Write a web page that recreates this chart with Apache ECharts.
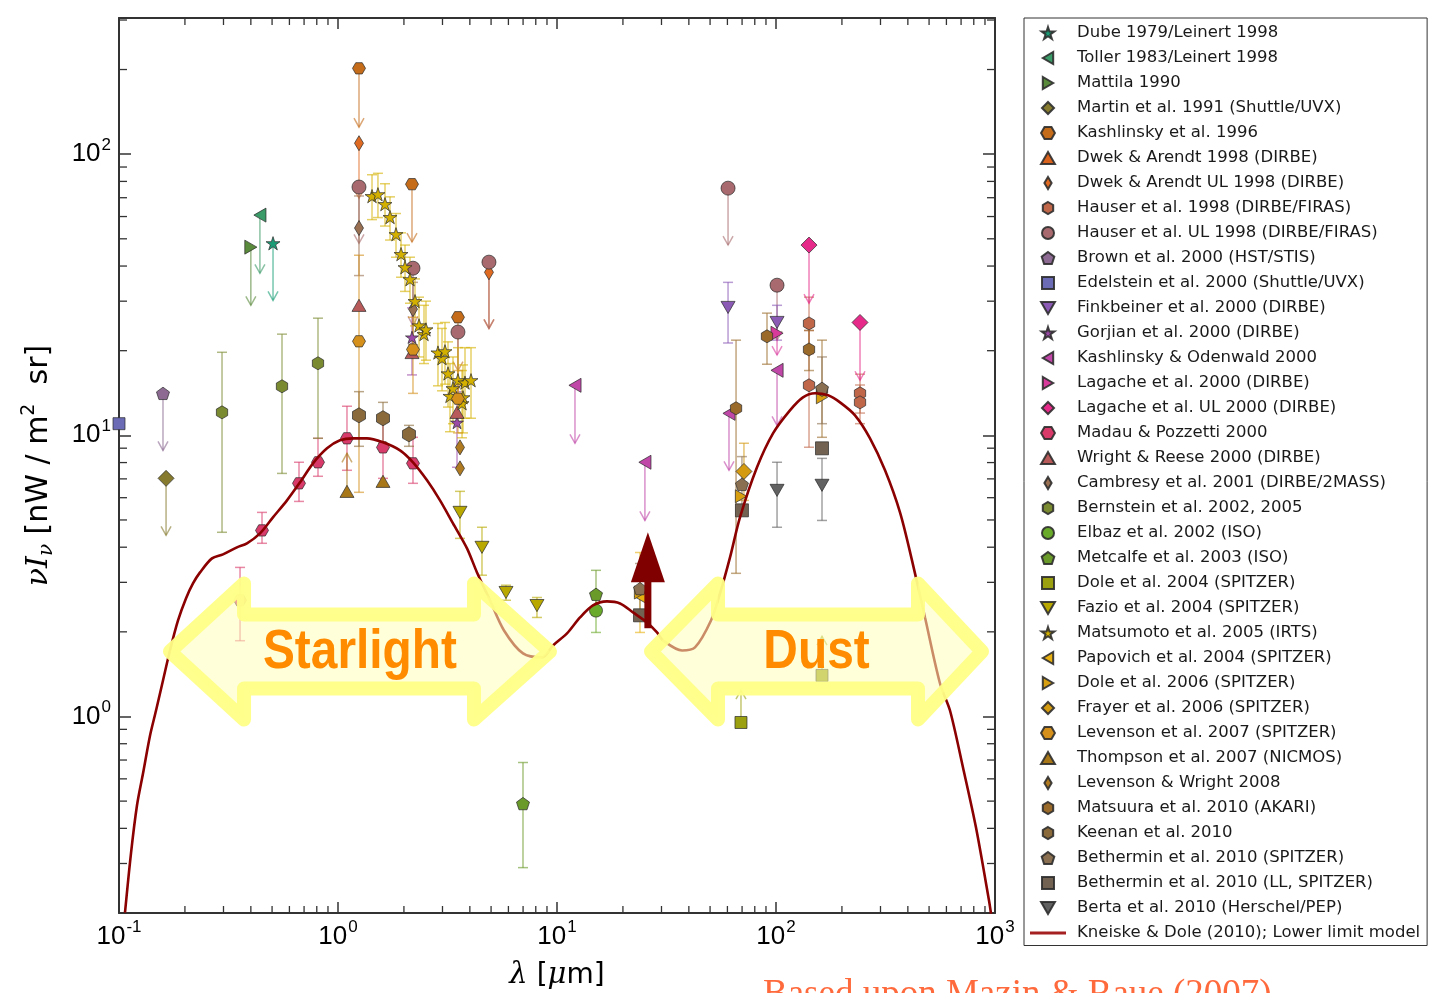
<!DOCTYPE html>
<html><head><meta charset="utf-8">
<script src="https://cdn.jsdelivr.net/npm/echarts@6/dist/echarts.min.js"></script>
<style>html,body{margin:0;padding:0;background:#fff}#c{width:1430px;height:993px}</style>
</head><body><div id="c"></div>
<script>
// ---------------- DATA ----------------
// columns: [lambda (um), nuI_nu, errLow, errHigh, limitEnd]  (0 = none)
const DUBE = [[0.505, 48.2, 0, 0, 30.2]];
const TOLLER = [[0.440, 60.7, 0, 0, 37.7]];
const MATTILA = [[0.400, 46.7, 0, 0, 29.0]];
const MARTIN = [[0.164, 7.03, 0, 0, 4.41]];
const KASHLINSKY96 = [[1.247, 202, 0, 0, 124.7], [2.177, 78.2, 0, 0, 48.7], [3.53, 26.3, 0, 0, 17.0]];
const DWEK98 = [];
const DWEK98_UL = [[1.247, 109.4, 0, 0, 69.7], [4.89, 38.0, 0, 0, 24.0]];
const HAUSER98 = [[141.5, 25.0, 19.5, 31.0, 0], [141.5, 15.06, 9.07, 23.6, 0], [241.9, 14.1, 12.0, 16.5, 0], [241.9, 13.1, 11.0, 15.1, 0]];
const HAUSER98_UL = [[1.247, 76.4, 0, 0, 48.2], [2.200, 39.3, 0, 0, 24.6], [3.53, 23.3, 0, 0, 14.5], [4.89, 41.3, 0, 0, 24.0], [60.4, 75.7, 0, 0, 47.5], [101.1, 34.2, 0, 0, 21.8]];
const BROWN00 = [[0.1588, 14.1, 0, 0, 8.84]];
const EDELSTEIN00 = [[0.1, 11.0, 0, 0, 0]];
const FINKBEINER00 = [[60.4, 28.5, 21.3, 35.0, 0], [101.1, 25.2, 21.8, 29.0, 0]];
const GORJIAN00 = [[2.177, 22.3, 16.4, 28.4, 0], [3.495, 11.1, 7.7, 14.3, 0]];
const KASH_ODEN00 = [[12.08, 15.06, 0, 0, 9.37], [25.2, 8.02, 0, 0, 4.98], [61.0, 11.97, 0, 0, 7.51], [101.1, 17.03, 0, 0, 10.85]];
const LAGACHE00 = [[101.1, 23.07, 0, 0, 19.3]];
const LAGACHE00_UL = [[141.5, 47.5, 0, 0, 29.5], [241.9, 25.2, 0, 0, 15.7]];
const MADAU00 = [[0.357, 2.59, 1.86, 3.39, 0], [0.4498, 4.59, 4.13, 5.32, 0], [0.6636, 6.75, 5.82, 8.02, 0], [0.8103, 8.02, 7.15, 9.76, 0], [1.099, 9.76, 7.51, 12.69, 0], [1.605, 9.06, 7.03, 11.78, 0], [2.200, 7.95, 6.75, 9.84, 0]];
const WRIGHT00 = [[1.247, 29.0, 0, 0, 0], [2.177, 19.7, 0, 0, 0], [3.495, 12.07, 0, 0, 0]];
const CAMBRESY01 = [[1.247, 54.6, 37, 71, 0], [2.200, 28.1, 21, 35, 0]];
const BERNSTEIN02 = [[0.2954, 12.07, 4.52, 19.74, 0], [0.555, 14.94, 7.32, 22.9, 0], [0.8103, 18.04, 9.76, 26.1, 0]];
const ELBAZ02 = [[15.07, 2.38, 1.99, 2.70, 0]];
const METCALFE03 = [[15.07, 2.72, 2.29, 3.31, 0], [6.994, 0.490, 0.290, 0.686, 0]];
const DOLE04 = [[69.2, 0.952, 0, 0, 1.24], [162.2, 1.40, 0, 0, 1.93]];
const FAZIO04 = [[3.606, 5.32, 4.30, 6.32, 0], [4.544, 3.995, 3.18, 4.71, 0], [5.85, 2.76, 2.59, 2.93, 0], [8.10, 2.48, 2.25, 2.65, 0]];
const MATSUMOTO05 = [
  [1.430, 70.9, 58.5, 84.5, 0], [1.522, 72.0, 59.5, 85.5, 0], [1.639, 66.4, 55.5, 78.5, 0],
  [1.728, 59.7, 49.5, 70.5, 0], [1.840, 51.9, 43.0, 61.5, 0], [1.940, 44.1, 36.5, 52.5, 0],
  [2.023, 39.6, 32.5, 47.5, 0], [2.132, 35.9, 29.5, 43.0, 0], [2.247, 30.0, 24.5, 36.0, 0],
  [2.344, 24.6, 19.0, 31.0, 0], [2.470, 22.9, 18.0, 29.0, 0], [2.522, 23.8, 18.5, 30.0, 0],
  [2.861, 19.7, 15.0, 25.0, 0], [2.985, 18.8, 14.4, 24.0, 0], [3.080, 19.9, 15.2, 25.2, 0],
  [3.179, 16.6, 12.6, 21.5, 0], [3.246, 13.8, 10.3, 18.0, 0], [3.350, 14.7, 11.0, 19.0, 0],
  [3.530, 15.7, 11.8, 20.5, 0], [3.684, 13.0, 9.8, 17.0, 0], [3.722, 13.65, 10.2, 17.8, 0],
  [3.801, 15.4, 11.5, 20.5, 0], [4.049, 15.7, 11.5, 20.5, 0]
];
const PAPOVICH04 = [[23.93, 2.67, 1.99, 3.83, 0]];
const DOLE06 = [[23.93, 2.76, 0, 0, 0], [69.2, 6.07, 0, 0, 0], [162.2, 13.65, 0, 0, 0]];
const FRAYER06 = [[71.4, 7.44, 5.87, 9.37, 0]];
const LEVENSON07 = [[1.247, 21.6, 6.27, 43.7, 0], [2.200, 20.2, 14.1, 26.3, 0], [3.53, 13.5, 10.2, 17.0, 0]];
const THOMPSON07 = [[1.099, 6.32, 0, 0, 8.63], [1.605, 6.86, 0, 0, 0]];
const LEVENSON_WRIGHT08 = [[3.606, 9.06, 0, 0, 0], [3.606, 7.63, 0, 0, 0]];
const MATSUURA10 = [[65.7, 12.48, 3.23, 21.8, 0], [90.97, 22.5, 17.9, 27.2, 0], [141.5, 20.2, 17.0, 23.6, 0], [162.2, 14.5, 9.84, 21.8, 0]];
const KEENAN10 = [[1.247, 11.78, 9.14, 14.3, 0], [1.605, 11.5, 9.37, 13.1, 0], [2.109, 10.08, 9.14, 10.85, 0]];
const BETHERMIN10 = [[23.93, 2.85, 2.29, 3.5, 0], [69.9, 6.69, 5.3, 8.4, 0], [162.2, 14.7, 11.0, 19.0, 0]];
const BETHERMIN10_LL = [[23.93, 2.29, 0, 0, 0], [69.9, 5.41, 0, 0, 0], [162.2, 8.99, 0, 0, 0]];
const BERTA10 = [[101.1, 6.37, 4.71, 8.02, 0], [162.2, 6.64, 4.98, 8.28, 0]];

// Kneiske & Dole (2010) lower-limit model
const MODEL_LAMBDA = [0.1065, 0.1134, 0.1208, 0.1287, 0.1386, 0.1476, 0.1588, 0.1709, 0.1860, 0.2022,
  0.2177, 0.2344, 0.2659, 0.2985, 0.3457, 0.3841, 0.4404, 0.5047, 0.5849, 0.6707,
  0.7689, 0.8909, 1.021, 1.171, 1.356, 1.605, 1.919, 2.200, 2.550, 2.923,
  3.350, 3.882, 4.312, 4.945, 5.728, 6.994, 8.543, 9.587, 11.11, 12.74,
  14.60, 16.92, 19.40, 22.23, 25.76, 28.62, 30.48, 37.23, 42.67, 50.49,
  55.51, 61.66, 68.47, 81.89, 96.89, 115.8, 132.8, 150.7, 172.8, 196.0,
  229.5, 268.7, 314.7, 368.3, 417.8, 479.1, 561.0, 623.0, 714.2, 818.9,
  938.9, 958.8];
const MODEL_NUI = [0.2007, 0.3255, 0.4824, 0.6268, 0.8558, 1.050, 1.343, 1.717, 2.196, 2.630,
  2.973, 3.254, 3.650, 3.772, 3.995, 4.128, 4.479, 5.107, 5.871, 6.803,
  7.951, 8.990, 9.598, 9.757, 9.757, 9.443, 8.843, 8.015, 6.917, 5.871,
  4.862, 3.963, 3.254, 2.588, 2.023, 1.676, 1.622, 1.789, 1.974, 2.250,
  2.483, 2.566, 2.524, 2.345, 2.160, 1.990, 1.864, 1.717, 1.761, 2.196,
  2.740, 3.680, 5.107, 7.693, 10.16, 12.27, 13.65, 14.11, 13.88, 13.10,
  11.78, 9.757, 7.506, 5.321, 3.592, 2.250, 1.310, 1.050, 0.6584, 0.4027,
  0.2214, 0.1990];

// Annotation arrows: [tipLeft λ, barbLeft λ, barbRight λ, tipRight λ, centre value]
const REGION_ARROWS = [[0.1709, 0.3723, 4.178, 9.29, 1.703], [26.87, 54.35, 445.1, 872.3, 1.703]];
const REGION_LABELS = ['Starlight', 'Dust'];
// Lower-limit arrow at 24 um: [λ, base value, head-base value, tip value]
const RED_ARROW = [[26.0, 2.06, 3.0, 4.52]];

// Tick values
const X_MINOR = [0.2,0.3,0.4,0.5,0.6,0.7,0.8,0.9,2,3,4,5,6,7,8,9,20,30,40,50,60,70,80,90,200,300,400,500,600,700,800,900];
const Y_MINOR = [0.3,0.4,0.5,0.6,0.7,0.8,0.9,2,3,4,5,6,7,8,9,20,30,40,50,60,70,80,90,200,300];

const MODEL_NAME = 'Kneiske & Dole (2010); Lower limit model';
const NOTE_TEXT = 'Based upon Mazin & Raue (2007)';

// ---------------- STYLES ----------------
const SYM = {
  star: 'path://M5,0 L6.12,3.455 L9.755,3.455 L6.815,5.59 L7.94,9.045 L5,6.91 L2.06,9.045 L3.185,5.59 L0.245,3.455 L3.88,3.455 Z',
  tl: 'path://M0,5 L8.66,0 L8.66,10 Z',
  tr: 'path://M8.66,5 L0,0 L0,10 Z',
  tu: 'path://M5,0 L10,8.66 L0,8.66 Z',
  td: 'path://M0,0 L10,0 L5,8.66 Z',
  D: 'path://M5,0 L10,5 L5,10 L0,5 Z',
  d: 'path://M3,0 L6,5 L3,10 L0,5 Z',
  h: 'path://M4.33,0 L8.66,2.5 L8.66,7.5 L4.33,10 L0,7.5 L0,2.5 Z',
  H: 'path://M0,4.33 L2.5,0 L7.5,0 L10,4.33 L7.5,8.66 L2.5,8.66 Z',
  p: 'path://M5,0 L9.755,3.455 L7.94,9.045 L2.06,9.045 L0.245,3.455 Z',
  s: 'path://M0,0 L10,0 L10,10 L0,10 Z',
  o: 'circle'
};

const SERIES = [
  ['Dube 1979/Leinert 1998', DUBE, 'star', '#1b9e77', 14],
  ['Toller 1983/Leinert 1998', TOLLER, 'tl', '#3a9a68', 14],
  ['Mattila 1990', MATTILA, 'tr', '#5a8a3c', 14],
  ['Martin et al. 1991 (Shuttle/UVX)', MARTIN, 'D', '#857a2e', 16],
  ['Kashlinsky et al. 1996', KASHLINSKY96, 'H', '#c46c1a', 13],
  ['Dwek & Arendt 1998 (DIRBE)', DWEK98, 'tu', '#d9621c', 13],
  ['Dwek & Arendt UL 1998 (DIRBE)', DWEK98_UL, 'd', '#df6a22', 15],
  ['Hauser et al. 1998 (DIRBE/FIRAS)', HAUSER98, 'h', '#c0674a', 13],
  ['Hauser et al. UL 1998 (DIRBE/FIRAS)', HAUSER98_UL, 'o', '#a86a6e', 14],
  ['Brown et al. 2000 (HST/STIS)', BROWN00, 'p', '#8c6a92', 13],
  ['Edelstein et al. 2000 (Shuttle/UVX)', EDELSTEIN00, 's', '#6b6bb5', 12],
  ['Finkbeiner et al. 2000 (DIRBE)', FINKBEINER00, 'td', '#8a5ab5', 14],
  ['Gorjian et al. 2000 (DIRBE)', GORJIAN00, 'star', '#9b4aa8', 13],
  ['Kashlinsky & Odenwald 2000', KASH_ODEN00, 'tl', '#c046a8', 14],
  ['Lagache et al. 2000 (DIRBE)', LAGACHE00, 'tr', '#d83a9c', 14],
  ['Lagache et al. UL 2000 (DIRBE)', LAGACHE00_UL, 'D', '#e62a8a', 16],
  ['Madau & Pozzetti 2000', MADAU00, 'H', '#d83a6a', 13],
  ['Wright & Reese 2000 (DIRBE)', WRIGHT00, 'tu', '#b85a5a', 14],
  ['Cambresy et al. 2001 (DIRBE/2MASS)', CAMBRESY01, 'd', '#9a7052', 15],
  ['Bernstein et al. 2002, 2005', BERNSTEIN02, 'h', '#7a8a30', 13],
  ['Elbaz et al. 2002 (ISO)', ELBAZ02, 'o', '#6aaa2a', 13],
  ['Metcalfe et al. 2003 (ISO)', METCALFE03, 'p', '#6a9a2a', 13],
  ['Dole et al. 2004 (SPITZER)', DOLE04, 's', '#9aa010', 12],
  ['Fazio et al. 2004 (SPITZER)', FAZIO04, 'td', '#b8a800', 14],
  ['Matsumoto et al. 2005 (IRTS)', MATSUMOTO05, 'star', '#d4b000', 14],
  ['Papovich et al. 2004 (SPITZER)', PAPOVICH04, 'tl', '#e8b010', 13],
  ['Dole et al. 2006 (SPITZER)', DOLE06, 'tr', '#d8a010', 13],
  ['Frayer et al. 2006 (SPITZER)', FRAYER06, 'D', '#d49a10', 16],
  ['Levenson et al. 2007 (SPITZER)', LEVENSON07, 'H', '#d4901a', 13],
  ['Thompson et al. 2007 (NICMOS)', THOMPSON07, 'tu', '#a87818', 14],
  ['Levenson & Wright 2008', LEVENSON_WRIGHT08, 'd', '#b07a20', 15],
  ['Matsuura et al. 2010 (AKARI)', MATSUURA10, 'h', '#9a6a2a', 13],
  ['Keenan et al. 2010', KEENAN10, 'h', '#8a6a3a', 15],
  ['Bethermin et al. 2010 (SPITZER)', BETHERMIN10, 'p', '#8a7050', 13],
  ['Bethermin et al. 2010 (LL, SPITZER)', BETHERMIN10_LL, 's', '#726252', 13],
  ['Berta et al. 2010 (Herschel/PEP)', BERTA10, 'td', '#626262', 14]
];

function rgba(hex, a) {
  const n = parseInt(hex.slice(1), 16);
  return 'rgba(' + ((n >> 16) & 255) + ',' + ((n >> 8) & 255) + ',' + (n & 255) + ',' + a + ')';
}

function errRender(color) {
  return function (params, api) {
    const x = api.value(0), y = api.value(1), lo = api.value(2), hi = api.value(3), lim = api.value(4);
    const p = api.coord([x, y]);
    const st = { stroke: color, lineWidth: 1.5, fill: null };
    const ch = [];
    if (lo > 0 && hi > 0) {
      const a = api.coord([x, hi]), b = api.coord([x, lo]);
      ch.push({ type: 'line', shape: { x1: a[0], y1: a[1], x2: b[0], y2: b[1] }, style: st });
      ch.push({ type: 'line', shape: { x1: a[0] - 5, y1: a[1], x2: a[0] + 5, y2: a[1] }, style: st });
      ch.push({ type: 'line', shape: { x1: b[0] - 5, y1: b[1], x2: b[0] + 5, y2: b[1] }, style: st });
    }
    if (lim > 0) {
      const e = api.coord([x, lim]);
      const dir = e[1] > p[1] ? 1 : -1;
      ch.push({ type: 'line', shape: { x1: p[0], y1: p[1], x2: e[0], y2: e[1] }, style: st });
      ch.push({ type: 'polyline', shape: { points: [[e[0] - 5, e[1] - dir * 9], [e[0], e[1]], [e[0] + 5, e[1] - dir * 9]] }, style: st });
    }
    return { type: 'group', children: ch };
  };
}

const series = [];
SERIES.forEach(function (s) {
  const name = s[0], pts = s[1], sym = s[2], col = s[3], size = s[4];
  series.push({
    type: 'custom', name: name + ' (err)', z: 3, silent: true,
    encode: { x: 0, y: 1 }, data: pts, renderItem: errRender(rgba(col, 0.6))
  });
  series.push({
    type: 'scatter', name: name, z: 4, symbol: SYM[sym], symbolSize: size, symbolKeepAspect: true,
    itemStyle: { color: col, borderColor: 'rgba(45,45,45,0.9)', borderWidth: 0.8, opacity: 1 },
    data: pts.map(function (p) { return [p[0], p[1]]; })
  });
});

series.push({
  type: 'line', name: MODEL_NAME, z: 5, symbol: 'none', showSymbol: false, smooth: 0.3, silent: true,
  lineStyle: { color: '#8b0000', width: 2.6 }, itemStyle: { color: '#a52020' },
  data: MODEL_LAMBDA.map(function (l, i) { return [l, MODEL_NUI[i]]; })
});

// minor ticks (all four sides)
series.push({
  type: 'custom', name: 'xminor', z: 6, silent: true, encode: { x: 0, y: 1 },
  data: X_MINOR.map(function (v) { return [v, 1]; }),
  renderItem: function (params, api) {
    const cs = params.coordSys; const px = api.coord([api.value(0), 1])[0];
    const st = { stroke: '#333', lineWidth: 1.3 };
    return { type: 'group', children: [
      { type: 'line', shape: { x1: px, y1: cs.y + cs.height, x2: px, y2: cs.y + cs.height - 7 }, style: st },
      { type: 'line', shape: { x1: px, y1: cs.y, x2: px, y2: cs.y + 7 }, style: st }
    ] };
  }
});
series.push({
  type: 'custom', name: 'yminor', z: 6, silent: true, encode: { x: 0, y: 1 },
  data: Y_MINOR.map(function (v) { return [1, v]; }),
  renderItem: function (params, api) {
    const cs = params.coordSys; const py = api.coord([1, api.value(1)])[1];
    const st = { stroke: '#333', lineWidth: 1.3 };
    return { type: 'group', children: [
      { type: 'line', shape: { x1: cs.x, y1: py, x2: cs.x + 8, y2: py }, style: st },
      { type: 'line', shape: { x1: cs.x + cs.width, y1: py, x2: cs.x + cs.width - 8, y2: py }, style: st }
    ] };
  }
});

// Starlight / Dust arrows
series.push({
  type: 'custom', name: 'regions', z: 10, silent: true, encode: { x: 0, y: 4 },
  data: REGION_ARROWS,
  renderItem: function (params, api) {
    const c = api.value(4);
    const tl = api.coord([api.value(0), c]), bl = api.coord([api.value(1), c]);
    const br = api.coord([api.value(2), c]), tr = api.coord([api.value(3), c]);
    const cy = tl[1], S = 37, B = 68;
    const pts = [[tl[0], cy], [bl[0], cy - B], [bl[0], cy - S], [br[0], cy - S], [br[0], cy - B],
      [tr[0], cy], [br[0], cy + B], [br[0], cy + S], [bl[0], cy + S], [bl[0], cy + B]];
    const cx = (tl[0] + tr[0]) / 2;
    return { type: 'group', children: [
      { type: 'polygon', shape: { points: pts },
        style: { fill: 'rgba(255,255,185,0.55)', stroke: 'rgba(255,255,135,0.95)', lineWidth: 14, lineJoin: 'round' } },
      { type: 'text', x: cx, y: cy + 1, scaleX: 0.87,
        style: { text: REGION_LABELS[params.dataIndex], x: 0, y: 0, align: 'center', verticalAlign: 'middle',
          fill: '#ff8c00', fontSize: 55, fontWeight: 'bold', fontFamily: 'Liberation Sans' } }
    ] };
  }
});

// red lower-limit arrow
series.push({
  type: 'custom', name: 'redarrow', z: 11, silent: true, encode: { x: 0, y: 1 },
  data: RED_ARROW,
  renderItem: function (params, api) {
    const x = api.value(0);
    const p0 = api.coord([x, api.value(1)]), ph = api.coord([x, api.value(2)]), pt = api.coord([x, api.value(3)]);
    const st = { fill: '#800000' };
    return { type: 'group', children: [
      { type: 'rect', shape: { x: p0[0] - 3.5, y: ph[1] - 1, width: 7, height: p0[1] - ph[1] + 1 }, style: st },
      { type: 'polygon', shape: { points: [[pt[0], pt[1]], [ph[0] - 17, ph[1]], [ph[0] + 17, ph[1]]] }, style: st }
    ] };
  }
});

function powLabel(v) {
  const l = Math.log10(v); const e = Math.round(l);
  if (Math.abs(l - e) > 1e-6) return '';
  return '{b|10}{s|' + e + '}';
}
const tickRich = {
  b: { fontSize: 26, fontFamily: 'Liberation Sans', color: '#000' },
  s: { fontSize: 17, fontFamily: 'Liberation Sans', color: '#000', padding: [0, 0, 18, 1] }
};
const axLine = { lineStyle: { color: '#333', width: 2 } };

const legendData = SERIES.map(function (s) { return s[0]; });
legendData.push({ name: MODEL_NAME, icon: 'path://M0,0 L36,0 L36,3 L0,3 Z', itemStyle: { color: '#a52020', borderWidth: 0 } });

const option = {
  animation: false,
  backgroundColor: '#fff',
  textStyle: { fontFamily: 'DejaVu Sans' },
  grid: { left: 119, top: 18, width: 876, height: 895, containLabel: false, outerBoundsMode: 'none' },
  xAxis: [
    { type: 'log', logBase: 10, min: 0.1, max: 1000, position: 'bottom',
      axisLine: axLine, axisTick: { inside: true, length: 11, lineStyle: { color: '#333', width: 1.5 } },
      axisLabel: { formatter: powLabel, rich: tickRich, margin: 6 }, splitLine: { show: false },
      name: '{i|λ} [{i|μ}m]', nameLocation: 'middle', nameGap: 48,
      nameTextStyle: { fontFamily: 'DejaVu Sans', fontSize: 28, color: '#000',
        rich: { i: { fontFamily: 'DejaVu Serif', fontStyle: 'italic', fontSize: 29, color: '#000' } } } },
    { type: 'log', logBase: 10, min: 0.1, max: 1000, position: 'top',
      axisLine: axLine, axisTick: { inside: true, length: 11, lineStyle: { color: '#333', width: 1.5 } },
      axisLabel: { show: false }, splitLine: { show: false } }
  ],
  yAxis: [
    { type: 'log', logBase: 10, min: 0.2, max: 305, position: 'left',
      axisLine: axLine, axisTick: { inside: true, length: 12, lineStyle: { color: '#333', width: 1.5 } },
      axisLabel: { formatter: powLabel, rich: tickRich, margin: 8 }, splitLine: { show: false },
      name: '{i|νI}{sub|ν} [nW / m{sup|2}  sr]', nameLocation: 'middle', nameRotate: 90, nameGap: 61,
      nameTextStyle: { fontFamily: 'DejaVu Sans', fontSize: 30, color: '#000',
        rich: {
          i: { fontFamily: 'DejaVu Serif', fontStyle: 'italic', fontSize: 30, color: '#000' },
          sub: { fontFamily: 'DejaVu Serif', fontStyle: 'italic', fontSize: 20, color: '#000', padding: [15, 0, 0, 0] },
          sup: { fontFamily: 'DejaVu Sans', fontSize: 19, color: '#000', padding: [0, 0, 19, 0] }
        } } },
    { type: 'log', logBase: 10, min: 0.2, max: 305, position: 'right',
      axisLine: axLine, axisTick: { inside: true, length: 12, lineStyle: { color: '#333', width: 1.5 } },
      axisLabel: { show: false }, splitLine: { show: false } }
  ],
  legend: {
    orient: 'vertical', left: 1024, top: 18, padding: [6.5, 7, 4, 6],
    itemWidth: 36, itemHeight: 12, itemGap: 8, selectedMode: false, symbolKeepAspect: true,
    borderColor: '#333', borderWidth: 1, backgroundColor: '#fff',
    textStyle: { fontFamily: 'DejaVu Sans', fontSize: 16.5, color: '#1a1a1a', lineHeight: 17, padding: [0, 0, 0, 6] },
    data: legendData
  },
  graphic: [
    { type: 'text', left: 763, top: 977, silent: true,
      style: { text: NOTE_TEXT, fontSize: 37, fontFamily: 'Liberation Serif', fill: '#ff6a3d' } }
  ],
  series: series
};

const chart = echarts.init(document.getElementById('c'));
chart.setOption(option);
</script></body></html>
